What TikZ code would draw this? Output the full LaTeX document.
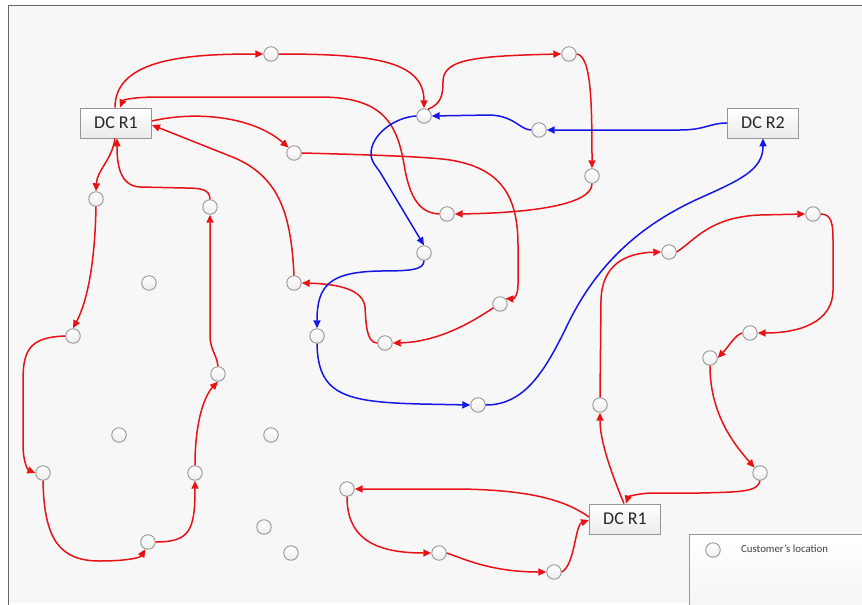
\documentclass[tikz,border=0pt]{standalone}
\usepackage{fontspec}
\setmainfont{Carlito}
\usetikzlibrary{arrows.meta}
\definecolor{rl}{RGB}{232,18,22}
\definecolor{bl}{RGB}{22,22,230}
\definecolor{bgc}{RGB}{247,247,247}
\definecolor{edc}{RGB}{150,150,150}
\begin{document}
\begin{tikzpicture}[x=1pt,y=-1pt,
  cust/.style={circle, draw=edc, line width=0.9pt, top color=white, bottom color=gray!14, minimum size=14.5pt, inner sep=0pt},
  dcbox/.style={draw=edc, line width=0.9pt, top color=white, bottom color=gray!16, minimum width=71pt, minimum height=30pt, inner sep=0pt, font=\fontsize{18}{21}\selectfont, text=black!85},
  rr/.style={draw=rl, line width=1.5pt, -{Triangle[length=8pt,width=7pt]}},
  bb/.style={draw=bl, line width=1.5pt, -{Triangle[length=8pt,width=7pt]}},
  legbox/.style={draw=edc, line width=0.8pt, top color=white, bottom color=gray!8}
]
\useasboundingbox (0,0) rectangle (862,605);
\fill[white] (0,0) rectangle (862,605);
\fill[bgc] (8,5) rectangle (862,603);
\draw[gray!80!black, line width=1pt] (8,605) -- (8,5) -- (862,5);

% depots
\node[dcbox] (R1a) at (116,123) {DC R1};
\node[dcbox] (R2) at (763,123) {DC R2};
\node[dcbox] (R1b) at (625,519) {DC R1};

% customers
\node[cust] (A) at (271,54) {};
\node[cust] (B) at (424,116) {};
\node[cust] (C) at (294,153) {};
\node[cust] (D) at (96,199) {};
\node[cust] (E) at (210,207) {};
\node[cust] (F) at (149,283) {};
\node[cust] (G) at (294,283) {};
\node[cust] (H) at (424,253) {};
\node[cust] (I) at (569,54) {};
\node[cust] (J) at (539,130) {};
\node[cust] (K) at (592,176) {};
\node[cust] (L) at (447,214) {};
\node[cust] (M) at (669,252) {};
\node[cust] (N) at (813,214) {};
\node[cust] (O) at (73,336) {};
\node[cust] (P) at (218,374) {};
\node[cust] (Q) at (119,435) {};
\node[cust] (R) at (271,435) {};
\node[cust] (S) at (43,473) {};
\node[cust] (T) at (195,473) {};
\node[cust] (U) at (148,542) {};
\node[cust] (V) at (264,527) {};
\node[cust] (W) at (291,553) {};
\node[cust] (X) at (317,336) {};
\node[cust] (Y) at (385,343) {};
\node[cust] (Z) at (347,489) {};
\node[cust] (AA) at (478,405) {};
\node[cust] (AB) at (600,405) {};
\node[cust] (AC) at (750,333) {};
\node[cust] (AD) at (710,358) {};
\node[cust] (AE) at (760,473) {};
\node[cust] (AF) at (439,553) {};
\node[cust] (AG) at (554,572) {};
\node[cust] (AH) at (500,304) {};

% legend
\node[legbox, minimum width=180pt, minimum height=74pt, anchor=north west, inner sep=0pt] (leg) at (689,534) {};
\node[cust] (LC) at (713,550) {};
\node[anchor=west, font=\fontsize{10.8}{13}\selectfont, text=black!75, inner sep=0pt] (LT) at (741,549) {Customer's location};

% red routes, upper-left depot
\draw[rr] ([xshift=-1pt]R1a.north) .. controls (115,58) and (190,54) .. (A.west);
\draw[rr] (A.east) .. controls (370,54) and (424,60) .. (B.north);
\draw[rr] (B.60) .. controls (441,104) and (443,95) .. (443,82) .. controls (443,60) and (470,56) .. (I.west);
\draw[rr] (I.east) .. controls (591,56) and (592,100) .. (K.north);
\draw[rr] (K.south) .. controls (592,205) and (530,213) .. (L.east);
\draw[rr] (L.west) .. controls (418,213) and (410,195) .. (405,170) .. controls (398,125) and (385,97) .. (320,97) -- (160,97) .. controls (132,97) and (123,100) .. ([xshift=4pt]R1a.north);
\draw[rr] ([yshift=2pt]R1a.east) .. controls (200,110) and (255,118) .. (C.north west);
\draw[rr] (C.east) .. controls (380,155) and (430,157) .. (450,160) .. controls (500,168) and (518,195) .. (518,245) -- (518,285) .. controls (518,295) and (514,299) .. (AH.north east);
\draw[rr] (AH.210) .. controls (475,320) and (440,342) .. (Y.east);
\draw[rr] (Y.west) .. controls (366,343) and (366,322) .. (365,307) .. controls (363,290) and (340,284) .. (G.east);
\draw[rr] (G.north) .. controls (291,215) and (280,178) .. (235,158) -- ([yshift=-2pt]R1a.east);
\draw[rr] ([xshift=-1pt]R1a.south) .. controls (112,160) and (97,170) .. (D.north);
\draw[rr] (E.north) .. controls (210,189) and (200,188) .. (185,188) -- (140,187) .. controls (120,186) and (117,165) .. ([xshift=1pt]R1a.south);
\draw[rr] (D.south) .. controls (95,260) and (88,300) .. (O.north);
\draw[rr] (O.west) .. controls (30,337) and (23,350) .. (23,380) -- (23,445) .. controls (23,462) and (28,470) .. (S.west);
\draw[rr] (S.south) .. controls (44,540) and (60,561) .. (100,561) .. controls (125,561) and (140,558) .. (U.250);
\draw[rr] (U.east) .. controls (190,542) and (195,530) .. (T.south);
\draw[rr] (T.north) .. controls (195,420) and (205,395) .. (P.south);
\draw[rr] (P.north) .. controls (217,355) and (210,350) .. (210,335) -- (E.south);

% red routes, lower depot
\draw[rr] ([xshift=-1pt]R1b.north) .. controls (610,470) and (600,440) .. (AB.south);
\draw[rr] (AB.north) -- (601,300) .. controls (602,265) and (625,253) .. (M.west);
\draw[rr] (M.east) .. controls (695,240) and (710,217) .. (760,215) -- (N.west);
\draw[rr] (N.east) .. controls (832,214) and (833,225) .. (833,240) -- (833,290) .. controls (833,322) and (800,333) .. (AC.east);
\draw[rr] (AC.west) .. controls (735,335) and (730,345) .. (AD.east);
\draw[rr] (AD.south) .. controls (710,410) and (730,440) .. (AE.north west);
\draw[rr] (AE.south) .. controls (758,492) and (740,492) .. (700,493) -- (650,493) .. controls (635,494) and (628,497) .. ([xshift=1pt]R1b.north);
\draw[rr] ([yshift=2pt]R1b.west) .. controls (565,500) and (530,490) .. (460,489) -- (Z.east);
\draw[rr] (Z.south) .. controls (347,535) and (370,553) .. (AF.west);
\draw[rr] (AF.east) .. controls (462,558) and (490,572) .. (AG.west);
\draw[rr] (AG.east) .. controls (575,565) and (575,525) .. ([yshift=-1pt]R1b.west);

% blue route
\draw[bb] (R2.west) .. controls (710,123) and (705,130) .. (680,130) -- (J.east);
\draw[bb] (J.west) .. controls (520,130) and (515,116) .. (490,115) -- (B.east);
\draw[bb] (B.west) .. controls (395,117) and (370,135) .. (371,155) .. controls (372,163) and (376,166) .. (380,172) -- (H.north);
\draw[bb] (H.south) .. controls (424,270) and (410,271) .. (380,271) .. controls (330,272) and (317,285) .. (X.north);
\draw[bb] (X.south) .. controls (318,395) and (345,402) .. (420,404) -- (AA.west);
\draw[bb] (AA.east) .. controls (525,405) and (545,370) .. (565,330) .. controls (595,265) and (640,225) .. (700,198) .. controls (740,180) and (763,170) .. (R2.south);
\end{tikzpicture}
\end{document}
